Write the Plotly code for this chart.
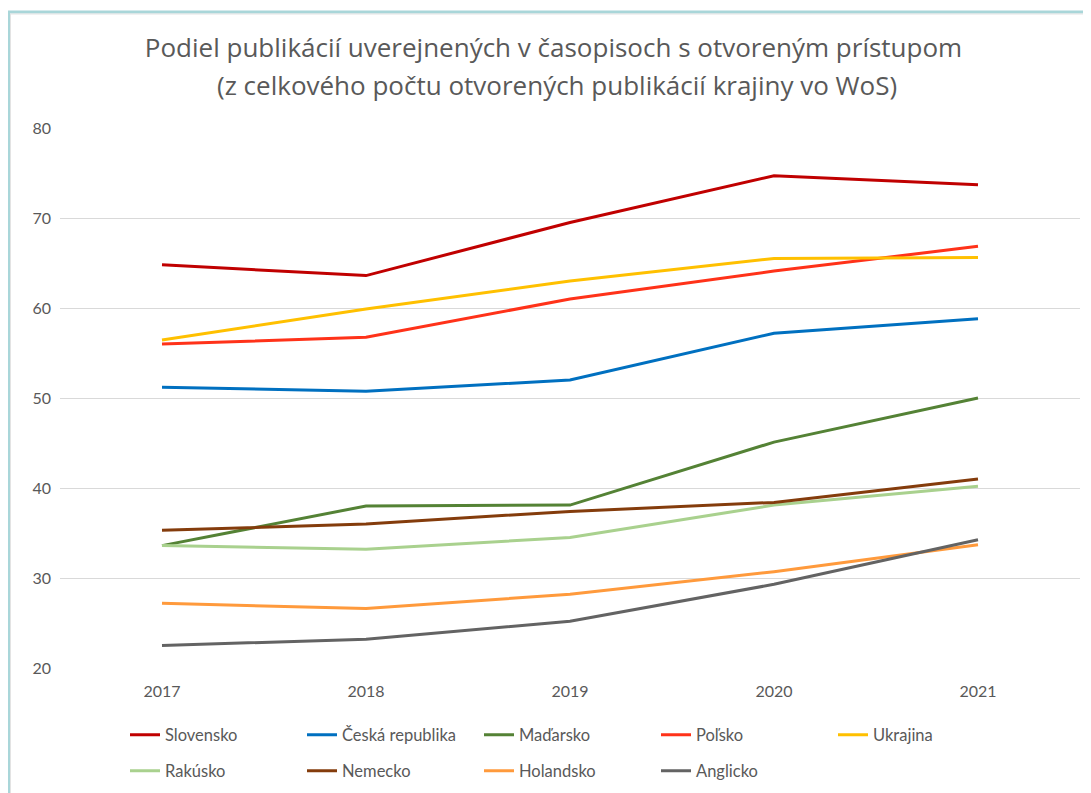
import plotly.graph_objects as go

years = ["2017", "2018", "2019", "2020", "2021"]

slovensko = [64.8, 63.6, 69.5, 74.7, 73.7]
ceska = [51.2, 50.75, 52.0, 57.2, 58.8]
madarsko = [33.6, 38.0, 38.1, 45.1, 50.0]
polsko = [56.0, 56.75, 61.0, 64.1, 66.85]
ukrajina = [56.45, 59.9, 63.0, 65.5, 65.6]
rakusko = [33.6, 33.2, 34.5, 38.1, 40.2]
nemecko = [35.3, 36.0, 37.4, 38.4, 41.0]
holandsko = [27.2, 26.6, 28.2, 30.7, 33.7]
anglicko = [22.5, 23.2, 25.2, 29.3, 34.25]

y_ticks = [20, 30, 40, 50, 60, 70, 80]

title_line1 = "Podiel publikácií uverejnených v časopisoch s otvoreným prístupom"
title_line2 = "(z celkového počtu otvorených publikácií krajiny vo WoS)"

series = [
    ("Slovensko", slovensko, "#C00000", "legend"),
    ("Česká republika", ceska, "#0070C0", "legend"),
    ("Maďarsko", madarsko, "#548235", "legend"),
    ("Poľsko", polsko, "#FF3219", "legend"),
    ("Ukrajina", ukrajina, "#FFC000", "legend"),
    ("Rakúsko", rakusko, "#A9D18E", "legend2"),
    ("Nemecko", nemecko, "#843C0C", "legend2"),
    ("Holandsko", holandsko, "#FF9A3C", "legend2"),
    ("Anglicko", anglicko, "#636363", "legend2"),
]

FONT = "Lato"
TITLE_FONT = "Open Sans"
GRAY = "#595959"

fig = go.Figure()
for name, vals, color, lg in series:
    fig.add_trace(go.Scatter(
        x=years, y=vals, name=name, mode="lines",
        line=dict(color=color, width=3),
        legend=lg,
    ))

W, H = 1091, 793
OFF = 8  # page body margin offset
L, R, T, B = 60 - OFF, 11 + OFF, 128 - OFF, 125 + OFF
pw = W - L - R
ph = H - T - B

def px_x(p):
    # screen pixel -> paper x
    return (p - OFF - L) / pw

def px_y(p):
    # screen pixel -> paper y
    return (H - B - (p - OFF)) / ph

def cy(p):
    # screen pixel -> container y
    return 1 - (p - OFF) / H

legend_common = dict(
    orientation="h",
    xanchor="left", yanchor="middle",
    font=dict(family=FONT, size=16.5, color=GRAY),
    entrywidth=132,
    itemwidth=30,
    bgcolor="rgba(0,0,0,0)",
    traceorder="normal",
)

fig.update_layout(
    width=W, height=H,
    margin=dict(l=L, r=R, t=T, b=B, autoexpand=False),
    paper_bgcolor="white",
    plot_bgcolor="white",
    showlegend=True,
    title=dict(
        text=title_line1,
        x=0.5, xanchor="center",
        xref="container", yref="container",
        y=cy(48), yanchor="middle",
        font=dict(family=TITLE_FONT, size=26, color=GRAY),
    ),
    annotations=[
        dict(
            text=title_line2, showarrow=False,
            xref="paper", yref="paper",
            x=px_x(557), y=px_y(85),
            xanchor="center", yanchor="middle",
            font=dict(family=TITLE_FONT, size=26, color=GRAY),
        )
    ],
    xaxis=dict(
        type="category",
        showgrid=False, showline=False, zeroline=False,
        ticks="",
        tickfont=dict(family=FONT, size=16, color=GRAY),
        ticklabelstandoff=12,
        range=[-0.5, 4.5],
    ),
    yaxis=dict(
        range=[20, 80],
        tickvals=y_ticks,
        showgrid=True, gridcolor="#D9D9D9", gridwidth=1,
        zeroline=False, showline=False,
        ticks="",
        tickfont=dict(family=FONT, size=16, color=GRAY),
        ticklabelstandoff=8,
    ),
    legend=dict(x=px_x(125), y=px_y(735), **legend_common),
    legend2=dict(x=px_x(125), y=px_y(771), **legend_common),
    shapes=[
        dict(
            type="rect", xref="paper", yref="paper",
            x0=px_x(8.5), x1=px_x(1200), y0=px_y(900), y1=px_y(12),
            line=dict(color="#A9D6D9", width=3),
            fillcolor="rgba(0,0,0,0)",
            layer="below",
        ),
        dict(
            type="rect", xref="paper", yref="paper",
            x0=px_x(10.5), x1=px_x(1200), y0=px_y(900), y1=px_y(14),
            line=dict(color="#E3E3E3", width=1),
            fillcolor="rgba(0,0,0,0)",
            layer="below",
        ),
    ],
)

fig.write_html("out.html")
